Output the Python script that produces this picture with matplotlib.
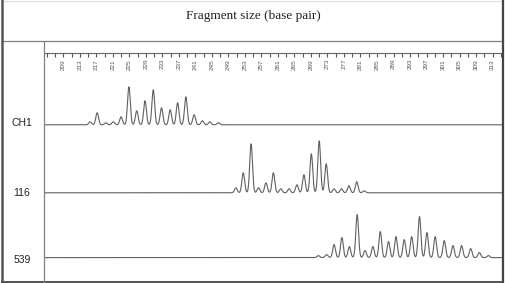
import numpy as np
import matplotlib.pyplot as plt
from matplotlib.lines import Line2D

# peaks: position (bp) and height (relative units)
sample_names = ["CH1", "116", "539"]

ch1_pos = [215.5, 217.2, 219.3, 221.1, 223.0, 224.9, 226.8, 228.8, 230.8,
           232.8, 234.9, 236.7, 238.7, 240.7, 242.7, 244.5, 246.6]
ch1_h = [3, 12, 2, 3, 8, 38, 14, 24, 35, 17, 15, 22, 28, 10, 4, 3, 2]

s116_pos = [250.8, 252.6, 254.5, 256.3, 258.1, 259.9, 261.7, 263.7, 265.6,
            267.3, 269.1, 271.0, 272.7, 274.6, 276.4, 278.2, 280.1, 281.9]
s116_h = [5, 20, 49, 5, 10, 20, 4, 4, 8, 18, 39, 52, 29, 4, 4, 7, 11, 2]

s539_pos = [270.8, 272.8, 274.6, 276.5, 278.3, 280.2, 282.1, 284.0, 285.8,
            287.8, 289.6, 291.6, 293.4, 295.3, 297.1, 299.1, 301.3, 303.4,
            305.5, 307.7, 309.8, 312.0]
s539_h = [2, 3, 13, 20, 11, 43, 7, 11, 26, 16, 21, 18, 21, 41, 25, 21, 17,
          12, 12, 9, 5, 2]

ruler_ticks = list(range(205, 316, 2))
ruler_labels = list(range(209, 314, 4))
x_range = (204.4, 315.6)

W, H = 506, 283
fig = plt.figure(figsize=(W / 100, H / 100), dpi=100)


def rect(left, top, right, bottom):
    return [left / W, 1 - bottom / H, (right - left) / W, (bottom - top) / H]


def hline(y, x0, x1, color="#808080", lw=0.9):
    fig.add_artist(Line2D([x0 / W, x1 / W], [1 - y / H, 1 - y / H],
                          color=color, lw=lw, transform=fig.transFigure))


def vline(x, y0, y1, color="#808080", lw=0.9):
    fig.add_artist(Line2D([x / W, x / W], [1 - y0 / H, 1 - y1 / H],
                          color=color, lw=lw, transform=fig.transFigure))


# table frame
hline(1, 3, 503, color="#e0e0e0", lw=0.8)
hline(41, 2, 503)
hline(281.7, 2, 503.5, color="#444444", lw=1.3)
vline(1.8, 0, 283, color="#555555", lw=1.8)
vline(503.5, 0, 283, color="#444444", lw=1.6)
vline(44.3, 41, 282)

fig.text(253.5 / W, 1 - 16 / H, "Fragment size (base pair)",
         family="Liberation Serif", size=9.5, color="#222222",
         ha="center", va="center")

# size ruler
ax_r = fig.add_axes(rect(44.3, 41, 503.3, 52.7))
ax_r.set_xlim(*x_range)
ax_r.set_ylim(0, 1)
ax_r.set_facecolor("none")
for sp in ["top", "left", "right"]:
    ax_r.spines[sp].set_visible(False)
ax_r.spines["bottom"].set_color("#666666")
ax_r.spines["bottom"].set_linewidth(0.8)
ax_r.set_yticks([])
ax_r.set_xticks(ruler_ticks, minor=True)
ax_r.set_xticks(ruler_labels)
ax_r.set_xticklabels([str(v) for v in ruler_labels], rotation=90,
                     family="Liberation Sans", size=4.6, color="#555555")
ax_r.tick_params(axis="x", which="both", direction="out", length=3,
                 width=0.8, color="#555555", pad=1.5)

# traces
xs = np.linspace(x_range[0], x_range[1], 3000)
sigma = 0.33
traces = [(ch1_pos, ch1_h), (s116_pos, s116_h), (s539_pos, s539_h)]
baselines = [124.8, 192.8, 257.6]
label_y = [123.3, 193.3, 260.0]

for (pos, hts), base, name, ly in zip(traces, baselines, sample_names, label_y):
    ax = fig.add_axes(rect(44.3, base - 60, 503.3, base + 2))
    ys = np.zeros_like(xs)
    for p, h in zip(pos, hts):
        ys += h * np.exp(-0.5 * ((xs - p) / sigma) ** 2)
    ax.plot(xs, ys, color="#606060", lw=0.8)
    ax.set_xlim(*x_range)
    ax.set_ylim(-2, 60)
    ax.axis("off")
    fig.text(22 / W, 1 - ly / H, name, family="Liberation Sans", size=7.5,
             color="#222222", ha="center", va="center")

fig.savefig("out.png", dpi=100)
